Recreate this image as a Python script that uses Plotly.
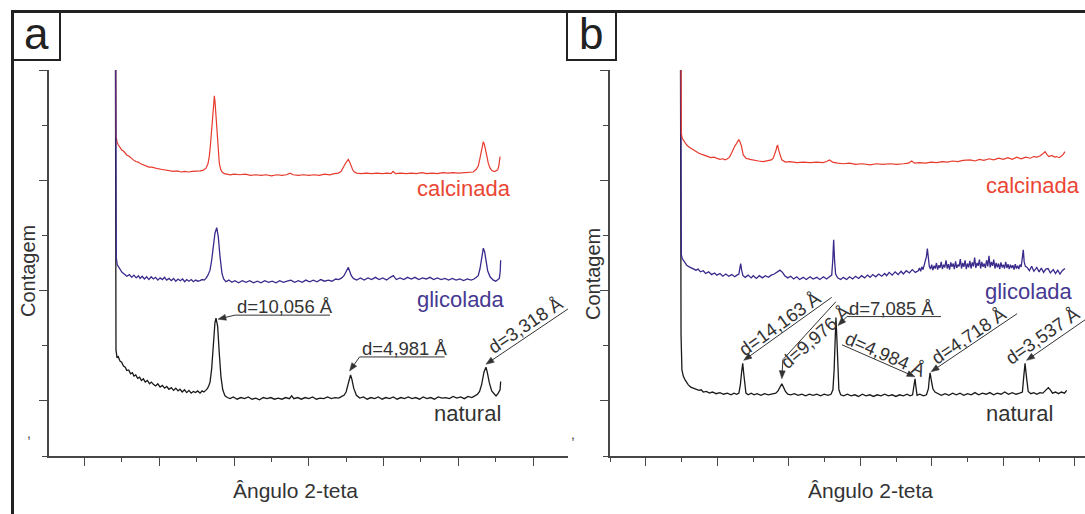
import math
import plotly.graph_objects as go

W, H = 1085, 514
FONT = "Liberation Sans, Arial, sans-serif"
INK = "#333333"
AXIS = "#474747"
C_NAT = "#1a1a1a"
C_GLI = "#3a2a8c"
C_CAL = "#e63a2c"
T_GLI = "#463892"
T_CAL = "#ea4634"
WAVELENGTH = 1.5406  # Cu K-alpha (Å)

# ---------------- (a) diffractograms: 2-theta (deg) / counts (a.u.) ----------------
a_nat_x = [2.03, 2.10, 2.17, 2.25, 2.37, 2.48, 2.60, 2.72, 2.82, 2.95, 3.08, 3.20, 3.30, 3.42, 3.55, 3.68,
           3.80, 3.93, 4.06, 4.20, 4.34, 4.47, 4.60, 4.75, 4.90, 5.05, 5.20, 5.35, 5.49, 5.64, 5.80, 5.95,
           6.10, 6.25, 6.38, 6.53, 6.68, 6.83, 6.98, 7.13, 7.27, 7.42, 7.57, 7.72, 7.86, 7.98, 8.10, 8.21,
           8.30, 8.39, 8.50, 8.61, 8.72, 8.79, 8.90, 9.01, 9.12, 9.24, 9.39, 9.55, 9.73, 9.95, 10.20, 10.45,
           10.70, 10.95, 11.20, 11.45, 11.70, 11.95, 12.20, 12.45, 12.70, 12.95, 13.20, 13.45, 13.70, 13.85,
           14.00, 14.25, 14.50, 14.75, 15.00, 15.25, 15.50, 15.75, 16.00, 16.25, 16.50, 16.75, 17.00, 17.20,
           17.35, 17.49, 17.62, 17.72, 17.79, 17.88, 18.00, 18.18, 18.40, 18.65, 18.90, 19.15, 19.40, 19.65,
           19.90, 20.15, 20.40, 20.65, 20.90, 21.15, 21.40, 21.65, 21.90, 22.15, 22.40, 22.65, 22.90, 23.15,
           23.40, 23.65, 23.90, 24.15, 24.40, 24.65, 24.90, 25.15, 25.40, 25.65, 25.90, 26.10, 26.28, 26.42,
           26.56, 26.72, 26.85, 26.94, 27.07, 27.23, 27.38, 27.52, 27.67, 27.79, 27.83]
a_nat_y = [12.0, 1.92, 1.78, 1.80, 1.72, 1.70, 1.63, 1.61, 1.55, 1.56, 1.49, 1.51, 1.45, 1.47, 1.41, 1.43,
           1.37, 1.40, 1.34, 1.37, 1.31, 1.34, 1.30, 1.27, 1.31, 1.25, 1.28, 1.23, 1.26, 1.21, 1.24, 1.19,
           1.23, 1.18, 1.21, 1.16, 1.20, 1.15, 1.19, 1.14, 1.17, 1.15, 1.18, 1.14, 1.18, 1.16, 1.19, 1.22,
           1.27, 1.34, 1.58, 2.05, 2.42, 2.50, 2.35, 1.86, 1.44, 1.20, 1.09, 1.06, 1.04, 1.07, 1.03, 1.06,
           1.04, 1.07, 1.03, 1.05, 1.02, 1.06, 1.04, 1.06, 1.03, 1.05, 1.03, 1.06, 1.04, 1.09,
           1.04, 1.06, 1.03, 1.06, 1.04, 1.07, 1.03, 1.05, 1.04, 1.07, 1.04, 1.06, 1.05, 1.08,
           1.10, 1.16, 1.30, 1.43, 1.47, 1.39, 1.23, 1.10, 1.05, 1.07, 1.03, 1.06, 1.04, 1.07,
           1.03, 1.06, 1.04, 1.07, 1.03, 1.06, 1.04, 1.07, 1.04, 1.06, 1.03, 1.07, 1.04, 1.06,
           1.03, 1.07, 1.05, 1.06, 1.04, 1.08, 1.05, 1.07, 1.04, 1.08, 1.06, 1.09, 1.12, 1.17,
           1.30, 1.53, 1.61, 1.51, 1.33, 1.18, 1.14, 1.09, 1.14, 1.20, 1.35]

a_gli_x = [2.03, 2.12, 2.18, 2.25, 2.37, 2.50, 2.65, 2.82, 3.00, 3.15, 3.30, 3.45, 3.60, 3.71, 3.85, 4.00,
           4.15, 4.30, 4.45, 4.60, 4.75, 4.90, 5.05, 5.20, 5.35, 5.49, 5.65, 5.80, 5.95, 6.10, 6.25, 6.40,
           6.55, 6.70, 6.83, 6.98, 7.13, 7.28, 7.43, 7.58, 7.72, 7.86, 8.00, 8.12, 8.25, 8.39, 8.50, 8.60,
           8.72, 8.84, 8.94, 9.06, 9.19, 9.30, 9.45, 9.65, 9.85, 10.05, 10.30, 10.55, 10.80, 11.05, 11.30,
           11.55, 11.80, 12.05, 12.30, 12.55, 12.80, 13.05, 13.30, 13.55, 13.80, 14.05, 14.30, 14.55, 14.80,
           15.05, 15.30, 15.55, 15.80, 16.05, 16.30, 16.55, 16.80, 17.00, 17.20, 17.35, 17.48, 17.58, 17.64,
           17.72, 17.84, 17.98, 18.20, 18.45, 18.70, 18.95, 19.20, 19.45, 19.70, 19.95, 20.20, 20.45, 20.65,
           20.85, 21.10, 21.35, 21.60, 21.85, 22.10, 22.35, 22.60, 22.85, 23.10, 23.35, 23.60, 23.85, 24.10,
           24.35, 24.60, 24.85, 25.10, 25.35, 25.60, 25.85, 26.05, 26.20, 26.33, 26.45, 26.56, 26.67, 26.76,
           26.86, 26.96, 27.12, 27.34, 27.50, 27.62, 27.74, 27.80, 27.83]
a_gli_y = [12.0, 3.60, 3.47, 3.44, 3.38, 3.33, 3.30, 3.26, 3.29, 3.24, 3.28, 3.23, 3.27, 3.22, 3.26, 3.21,
           3.25, 3.20, 3.25, 3.21, 3.24, 3.19, 3.23, 3.20, 3.24, 3.19, 3.22, 3.18, 3.22, 3.17, 3.21, 3.18,
           3.21, 3.16, 3.20, 3.17, 3.20, 3.16, 3.19, 3.17, 3.18, 3.20, 3.19, 3.22, 3.28, 3.37, 3.55, 3.74,
           4.04, 4.14, 3.98, 3.61, 3.31, 3.21, 3.16, 3.19, 3.15, 3.18, 3.14, 3.18, 3.15, 3.18, 3.14,
           3.17, 3.14, 3.18, 3.15, 3.17, 3.14, 3.18, 3.15, 3.17, 3.19, 3.15, 3.18, 3.15, 3.19,
           3.16, 3.19, 3.16, 3.20, 3.17, 3.19, 3.17, 3.21, 3.20, 3.23, 3.27, 3.33, 3.40, 3.42,
           3.36, 3.27, 3.22, 3.19, 3.23, 3.19, 3.23, 3.20, 3.24, 3.20, 3.23, 3.19, 3.24, 3.27,
           3.20, 3.23, 3.20, 3.24, 3.21, 3.24, 3.20, 3.23, 3.21, 3.24, 3.20, 3.23, 3.20, 3.22,
           3.19, 3.22, 3.19, 3.21, 3.18, 3.21, 3.19, 3.21, 3.24, 3.27, 3.40, 3.62, 3.77, 3.70,
           3.52, 3.36, 3.25, 3.19, 3.17, 3.19, 3.22, 3.35, 3.55]

a_cal_x = [2.03, 2.10, 2.17, 2.25, 2.36, 2.48, 2.60, 2.70, 2.82, 2.95, 3.10, 3.26, 3.42, 3.58, 3.75, 3.93,
           4.10, 4.30, 4.50, 4.70, 4.90, 5.10, 5.30, 5.50, 5.71, 5.95, 6.20, 6.45, 6.70, 6.95, 7.20, 7.45,
           7.72, 7.92, 8.12, 8.25, 8.34, 8.42, 8.50, 8.58, 8.63, 8.68, 8.73, 8.80, 8.88, 8.95, 9.01, 9.10,
           9.20, 9.35, 9.51, 9.75, 10.00, 10.39, 10.75, 11.10, 11.45, 11.80, 12.15, 12.50, 12.85, 13.20,
           13.50, 13.74, 13.95, 14.30, 14.65, 15.00, 15.35, 15.70, 16.05, 16.40, 16.70, 16.97, 17.15, 17.30,
           17.42, 17.53, 17.64, 17.75, 17.85, 17.93, 18.05, 18.20, 18.50, 18.85, 19.20, 19.55, 19.90, 20.25,
           20.50, 20.63, 20.80, 21.15, 21.50, 21.85, 22.20, 22.55, 22.90, 23.25, 23.60, 23.95, 24.30, 24.65,
           25.00, 25.35, 25.70, 26.00, 26.20, 26.33, 26.43, 26.51, 26.60, 26.67, 26.75, 26.83, 26.92, 27.00,
           27.12, 27.23, 27.35, 27.45, 27.55, 27.63, 27.70, 27.76, 27.79]
a_cal_y = [12.0, 5.79, 5.70, 5.64, 5.60, 5.55, 5.53, 5.49, 5.46, 5.44, 5.40, 5.37, 5.34, 5.33, 5.30, 5.28,
           5.27, 5.24, 5.24, 5.22, 5.21, 5.20, 5.19, 5.19, 5.18, 5.16, 5.17, 5.15, 5.16, 5.15, 5.16, 5.16,
           5.17, 5.18, 5.22, 5.30, 5.43, 5.65, 5.97, 6.25, 6.40, 6.53, 6.40, 6.12, 5.73, 5.48, 5.31, 5.20,
           5.15, 5.12, 5.11, 5.10, 5.11, 5.10, 5.11, 5.09, 5.10, 5.09, 5.10, 5.08, 5.10, 5.09,
           5.10, 5.13, 5.10, 5.09, 5.10, 5.09, 5.10, 5.09, 5.11, 5.10, 5.12, 5.13, 5.16, 5.22,
           5.29, 5.34, 5.38, 5.32, 5.25, 5.19, 5.15, 5.13, 5.12, 5.13, 5.12, 5.13, 5.12, 5.13,
           5.12, 5.16, 5.12, 5.13, 5.12, 5.13, 5.12, 5.14, 5.12, 5.13, 5.12, 5.14, 5.13, 5.14,
           5.13, 5.14, 5.14, 5.15, 5.20, 5.26, 5.38, 5.49, 5.62, 5.70, 5.64, 5.56, 5.42, 5.31,
           5.22, 5.18, 5.16, 5.16, 5.18, 5.19, 5.25, 5.35, 5.43]

# ---------------- (b) diffractograms ----------------
b_nat_x = [2.03, 2.10, 2.16, 2.25, 2.37, 2.48, 2.59, 2.75, 2.92, 3.10, 3.30, 3.45, 3.59, 3.80, 4.00, 4.20,
           4.45, 4.71, 4.95, 5.20, 5.45, 5.65, 5.83, 5.98, 6.08, 6.16, 6.236, 6.30, 6.37, 6.45, 6.60, 6.80,
           7.00, 7.20, 7.45, 7.70, 7.95, 8.20, 8.45, 8.60, 8.72, 8.857, 8.98, 9.10, 9.25, 9.45, 9.70, 9.95,
           10.20, 10.45, 10.70, 10.95, 11.20, 11.45, 11.70, 11.95, 12.15, 12.28, 12.36, 12.43, 12.483, 12.53,
           12.60, 12.68, 12.80, 13.00, 13.25, 13.50, 13.75, 14.00, 14.25, 14.50, 14.75, 15.00, 15.25, 15.50,
           15.75, 16.00, 16.25, 16.50, 16.75, 17.00, 17.25, 17.45, 17.62, 17.72, 17.782, 17.84, 17.92, 18.10,
           18.35, 18.55, 18.68, 18.74, 18.793, 18.87, 18.98, 19.12, 19.30, 19.55, 19.80, 20.05, 20.30, 20.55,
           20.80, 21.05, 21.30, 21.55, 21.80, 22.05, 22.30, 22.55, 22.80, 23.05, 23.30, 23.55, 23.80, 24.05,
           24.30, 24.55, 24.80, 24.98, 25.07, 25.158, 25.25, 25.37, 25.55, 25.75, 25.95, 26.15, 26.35, 26.50,
           26.62, 26.72, 26.85, 27.00, 27.20, 27.40, 27.60, 27.80, 27.95]
b_nat_y = [12.0, 2.20, 1.56, 1.45, 1.38, 1.33, 1.29, 1.25, 1.23, 1.21, 1.19, 1.20, 1.16, 1.17, 1.14, 1.16,
           1.13, 1.15, 1.12, 1.14, 1.11, 1.14, 1.12, 1.14, 1.30, 1.52, 1.68, 1.50, 1.28, 1.14, 1.11, 1.14,
           1.11, 1.13, 1.10, 1.13, 1.11, 1.13, 1.14, 1.18, 1.24, 1.31, 1.24, 1.17, 1.12, 1.11, 1.13, 1.10,
           1.12, 1.09, 1.12, 1.10, 1.12, 1.09, 1.12, 1.10, 1.12, 1.20, 1.55, 2.23, 2.51, 2.23,
           1.55, 1.20, 1.11, 1.09, 1.12, 1.09, 1.11, 1.08, 1.12, 1.09, 1.11, 1.08, 1.11, 1.09,
           1.12, 1.09, 1.11, 1.08, 1.11, 1.09, 1.12, 1.09, 1.11, 1.28, 1.40, 1.26, 1.10, 1.12,
           1.09, 1.11, 1.22, 1.40, 1.51, 1.38, 1.22, 1.16, 1.13, 1.10, 1.13, 1.10, 1.14, 1.11,
           1.14, 1.10, 1.13, 1.11, 1.15, 1.11, 1.14, 1.12, 1.15, 1.11, 1.14, 1.12, 1.16, 1.12,
           1.15, 1.12, 1.14, 1.16, 1.44, 1.68, 1.44, 1.17, 1.13, 1.15, 1.12, 1.15, 1.14, 1.18,
           1.22, 1.24, 1.20, 1.14, 1.16, 1.13, 1.16, 1.14, 1.19]

b_gli_x = [2.03, 2.12, 2.18, 2.25, 2.36, 2.48, 2.65, 2.80, 2.92, 3.10, 3.25, 3.40, 3.59, 3.75, 3.95, 4.15,
           4.35, 4.50, 4.71, 4.90, 5.10, 5.30, 5.50, 5.70, 5.85, 5.98, 6.05, 6.10, 6.16, 6.25, 6.40, 6.60,
           6.80, 6.94, 7.15, 7.35, 7.55, 7.75, 7.95, 8.15, 8.35, 8.55, 8.73, 8.90, 9.05, 9.25, 9.45, 9.65,
           9.85, 10.05, 10.29, 10.50, 10.75, 10.95, 11.20, 11.40, 11.65, 11.85, 12.05, 12.20, 12.27, 12.33,
           12.39, 12.46, 12.60, 12.80, 12.98, 13.20, 13.40, 13.60, 13.80, 14.00, 14.20, 14.40, 14.60, 14.77,
           14.95, 15.15, 15.35, 15.55, 15.75, 15.88, 16.05, 16.25, 16.45, 16.65, 16.85, 17.00, 17.20, 17.40,
           17.60, 17.80, 18.00, 18.08, 18.16, 18.24, 18.32, 18.40, 18.48, 18.55, 18.61, 18.67, 18.74, 18.82,
           18.90, 18.98, 19.06, 19.14, 19.22, 19.30, 19.38, 19.46, 19.54, 19.62, 19.70, 19.78, 19.86, 19.94,
           20.02, 20.10, 20.18, 20.26, 20.34, 20.42, 20.50, 20.58, 20.66, 20.74, 20.82, 20.90, 20.98, 21.06,
           21.14, 21.22, 21.30, 21.38, 21.46, 21.54, 21.62, 21.70, 21.78, 21.86, 21.94, 22.02, 22.10, 22.18,
           22.26, 22.34, 22.42, 22.50, 22.58, 22.66, 22.74, 22.82, 22.90, 22.98, 23.06, 23.14, 23.22, 23.30,
           23.38, 23.46, 23.54, 23.62, 23.70, 23.78, 23.86, 23.94, 24.02, 24.10, 24.18, 24.26, 24.34, 24.42,
           24.50, 24.58, 24.66, 24.74, 24.82, 24.90, 24.97, 25.04, 25.10, 25.18, 25.30, 25.45, 25.60, 25.75,
           25.94, 26.10, 26.25, 26.40, 26.55, 26.70, 26.85, 27.05, 27.20, 27.35, 27.50, 27.65, 27.83]
b_gli_y = [12.0, 3.65, 3.58, 3.55, 3.50, 3.46, 3.43, 3.41, 3.39, 3.37, 3.39, 3.34, 3.36, 3.31, 3.34, 3.29,
           3.32, 3.28, 3.31, 3.26, 3.30, 3.26, 3.29, 3.25, 3.28, 3.30, 3.42, 3.49, 3.37, 3.27, 3.24, 3.28,
           3.23, 3.27, 3.22, 3.27, 3.23, 3.27, 3.24, 3.28, 3.30, 3.34, 3.37, 3.33, 3.27, 3.23, 3.26, 3.21,
           3.25, 3.20, 3.24, 3.20, 3.25, 3.21, 3.24, 3.20, 3.25, 3.21, 3.25, 3.28, 3.55, 3.92,
           3.55, 3.30, 3.23, 3.20, 3.24, 3.20, 3.25, 3.21, 3.26, 3.22, 3.27, 3.23, 3.28, 3.24,
           3.29, 3.25, 3.30, 3.26, 3.31, 3.27, 3.33, 3.28, 3.34, 3.29, 3.35, 3.30, 3.36, 3.32,
           3.38, 3.33, 3.36, 3.41, 3.35, 3.43, 3.38, 3.46, 3.52, 3.62, 3.76, 3.55, 3.44, 3.39,
           3.47, 3.37, 3.45, 3.40, 3.50, 3.38, 3.46, 3.41, 3.52, 3.39, 3.47, 3.42, 3.55, 3.40,
           3.48, 3.38, 3.51, 3.43, 3.49, 3.39, 3.53, 3.41, 3.47, 3.44, 3.57, 3.40, 3.50, 3.43,
           3.55, 3.39, 3.49, 3.42, 3.54, 3.40, 3.51, 3.44, 3.60, 3.41, 3.50, 3.45, 3.56, 3.40,
           3.52, 3.43, 3.49, 3.41, 3.55, 3.44, 3.63, 3.42, 3.52, 3.45, 3.56, 3.40, 3.50, 3.42,
           3.49, 3.39, 3.51, 3.42, 3.47, 3.40, 3.52, 3.41, 3.48, 3.39, 3.47, 3.41, 3.46, 3.38,
           3.48, 3.40, 3.45, 3.39, 3.47, 3.43, 3.55, 3.74, 3.52, 3.44, 3.42, 3.36, 3.44, 3.35,
           3.42, 3.34, 3.41, 3.33, 3.39, 3.40, 3.32, 3.38, 3.31, 3.37, 3.30, 3.36, 3.40]

b_cal_x = [2.03, 2.12, 2.18, 2.25, 2.36, 2.48, 2.65, 2.92, 3.10, 3.30, 3.59, 3.85, 4.10, 4.30, 4.49, 4.70,
           4.90, 5.05, 5.16, 5.35, 5.50, 5.60, 5.72, 5.83, 5.97, 6.05, 6.15, 6.27, 6.45, 6.72, 7.00, 7.30,
           7.61, 7.90, 8.15, 8.28, 8.40, 8.47, 8.53, 8.58, 8.64, 8.72, 8.85, 9.10, 9.40, 9.85, 10.30, 10.75,
           11.20, 11.60, 11.86, 12.05, 12.25, 12.60, 12.98, 13.40, 13.80, 14.25, 14.77, 15.20, 15.65, 16.10,
           16.55, 17.00, 17.35, 17.56, 17.75, 18.10, 18.50, 18.85, 19.24, 19.60, 19.95, 20.30, 20.65, 21.00,
           21.47, 21.80, 22.10, 22.40, 22.75, 23.05, 23.40, 23.70, 24.00, 24.30, 24.60, 24.90, 25.20, 25.50,
           25.75, 25.94, 26.15, 26.35, 26.50, 26.62, 26.75, 26.95, 27.15, 27.28, 27.45, 27.60, 27.72, 27.83]
b_cal_y = [12.0, 5.85, 5.76, 5.73, 5.68, 5.64, 5.60, 5.55, 5.52, 5.49, 5.46, 5.44, 5.41, 5.42, 5.40, 5.38,
           5.39, 5.37, 5.38, 5.42, 5.50, 5.57, 5.63, 5.67, 5.74, 5.70, 5.62, 5.46, 5.40, 5.38, 5.36, 5.35,
           5.34, 5.35, 5.37, 5.40, 5.48, 5.55, 5.62, 5.63, 5.55, 5.46, 5.37, 5.33, 5.34, 5.32, 5.33, 5.32,
           5.33, 5.32, 5.34, 5.37, 5.33, 5.31, 5.30, 5.31, 5.29, 5.30, 5.28, 5.30, 5.29, 5.30,
           5.29, 5.30, 5.31, 5.35, 5.31, 5.32, 5.31, 5.33, 5.32, 5.34, 5.33, 5.35, 5.34, 5.36,
           5.37, 5.35, 5.38, 5.36, 5.39, 5.37, 5.40, 5.38, 5.41, 5.38, 5.42, 5.39, 5.42, 5.40,
           5.43, 5.42, 5.44, 5.48, 5.52, 5.47, 5.43, 5.45, 5.42, 5.43, 5.41, 5.44, 5.47, 5.52]

# d-spacings (Å) marked on the natural samples
a_d = [10.056, 4.981, 3.318]
b_d = [14.163, 9.976, 7.085, 4.984, 4.718, 3.537]

for xs, ys in [(a_nat_x, a_nat_y), (a_gli_x, a_gli_y), (a_cal_x, a_cal_y),
               (b_nat_x, b_nat_y), (b_gli_x, b_gli_y), (b_cal_x, b_cal_y)]:
    assert len(xs) == len(ys)


def bragg(d):
    return 2.0 * math.degrees(math.asin(WAVELENGTH / (2.0 * d)))


def px(x):
    return x / W


def py(y):
    return 1.0 - y / H


fig = go.Figure()


def trace(xs, ys, color, width, panel):
    fig.add_trace(go.Scatter(
        x=xs, y=ys, mode="lines", line=dict(color=color, width=width),
        xaxis="x" if panel == 1 else "x2", yaxis="y" if panel == 1 else "y2",
        hoverinfo="skip", showlegend=False))


trace(a_nat_x, a_nat_y, C_NAT, 1.3, 1)
trace(a_cal_x, a_cal_y, C_CAL, 1.2, 1)
trace(a_gli_x, a_gli_y, C_GLI, 1.3, 1)
trace(b_nat_x, b_nat_y, C_NAT, 1.3, 2)
trace(b_gli_x, b_gli_y, C_GLI, 1.3, 2)
trace(b_cal_x, b_cal_y, C_CAL, 1.2, 2)

# ---------------- axes ----------------
ydom = [py(456), py(70)]


def xaxis(domain, rng, tick0, dtick, anchor):
    return dict(domain=domain, range=rng, anchor=anchor, showline=True, linecolor=AXIS, linewidth=1.5,
                ticks="outside", ticklen=8, tickwidth=1.3, tickcolor=AXIS, tick0=tick0, dtick=dtick,
                showticklabels=False, showgrid=False, zeroline=False, fixedrange=True,
                minor=dict(ticks="outside", ticklen=4, tickwidth=1.3, tickcolor=AXIS,
                           tick0=tick0, dtick=dtick / 2, showgrid=False))


def yaxis(anchor):
    return dict(domain=ydom, range=[0, 7], anchor=anchor, showline=True, linecolor=AXIS, linewidth=1.5,
                ticks="outside", ticklen=8, tickwidth=1.3, tickcolor=AXIS, tick0=1, dtick=2,
                showticklabels=False, showgrid=False, zeroline=False, fixedrange=True,
                minor=dict(ticks="outside", ticklen=5, tickwidth=1.3, tickcolor=AXIS,
                           tick0=0, dtick=1, showgrid=False))


fig.update_layout(
    width=W, height=H, margin=dict(l=0, r=0, t=0, b=0),
    paper_bgcolor="white", plot_bgcolor="white", showlegend=False,
    xaxis=xaxis([px(49), px(568)], [-2.381, 32.334], 0, 5, "y"),
    yaxis=yaxis("x"),
    xaxis2=xaxis([px(610), 1.0], [-2.661, 29.176], -0.25, 4.79, "y2"),
    yaxis2=yaxis("x2"),
)

# ---------------- peak call-outs ----------------
LABEL_FONT = dict(family=FONT, size=18.5, color=INK)
ANGSTROM = "\u00c5"

# offsets in screen pixels (y down) relative to the peak top of the natural trace
a_callouts = [
    dict(kind="bend", nudge=(2, 1), bend=(17, -4), run=95),
    dict(kind="bend", nudge=(-1, -4), bend=(10, -14), run=85),
    dict(kind="slant", nudge=(0, -3), tail=(92, -62), t=0.5, lift=10),
]
b_callouts = [
    dict(kind="slant", nudge=(1, -3), tail=(88, -63), t=0.47, lift=9),
    dict(kind="kink", nudge=(0, -5), bend=(1, -19), tail=(54, -77), t=0.5, lift=-9, angle=-41),
    dict(kind="bend", nudge=(2, 8), bend=(9, -9), run=94),
    dict(kind="slant", nudge=(0, -2), tail=(-73, -32), t=0.45, lift=9),
    dict(kind="slant", nudge=(1, -1), tail=(86, -58), t=0.5, lift=9),
    dict(kind="slant", nudge=(1.5, -3), tail=(75, -52), t=0.30, lift=11),
]


def add_callout(panel, d, xs, ys, spec):
    xref, yref = ("x", "y") if panel == 1 else ("x2", "y2")
    tip_x = bragg(d)
    tip_y = max(y for x, y in zip(xs, ys) if abs(x - tip_x) < 0.12)
    label = "d=" + f"{d:.3f}".replace(".", ",") + " " + ANGSTROM
    anchor = dict(xref=xref, yref=yref, xsizemode="pixel", ysizemode="pixel",
                  xanchor=tip_x, yanchor=tip_y)

    def seg(p, q):
        fig.add_shape(type="line", x0=p[0], y0=-p[1], x1=q[0], y1=-q[1],
                      line=dict(color=INK, width=1), **anchor)

    def head(tip, toward):
        dx, dy = toward[0] - tip[0], toward[1] - tip[1]
        n = math.hypot(dx, dy)
        ux, uy = dx / n, dy / n
        bx, by = tip[0] + 8 * ux, tip[1] + 8 * uy
        c1 = (bx - 3 * uy, by + 3 * ux)
        c2 = (bx + 3 * uy, by - 3 * ux)
        path = "M{:.2f},{:.2f} L{:.2f},{:.2f} L{:.2f},{:.2f} Z".format(
            tip[0], -tip[1], c1[0], -c1[1], c2[0], -c2[1])
        fig.add_shape(type="path", path=path, fillcolor=INK, line=dict(color=INK, width=0.5), **anchor)
        return (tip[0] + 6 * ux, tip[1] + 6 * uy)

    def label_text(cx, cy, **kw):
        fig.add_annotation(x=tip_x, y=tip_y, xref=xref, yref=yref, text=label, showarrow=False,
                           xshift=cx, yshift=-cy, font=LABEL_FONT, borderpad=0, **kw)

    nx, ny = spec["nudge"]
    tip = (nx, ny)
    kind = spec["kind"]
    if kind == "bend":
        b = (nx + spec["bend"][0], ny + spec["bend"][1])
        seg(head(tip, b), b)
        seg(b, (b[0] + spec["run"], b[1]))
        label_text(b[0] + 1, b[1] + 3, xanchor="left", yanchor="bottom")
        return
    tail = (nx + spec["tail"][0], ny + spec["tail"][1])
    if kind == "kink":
        start = (nx + spec["bend"][0], ny + spec["bend"][1])
        seg(head(tip, start), start)
        seg(start, tail)
    else:
        start = tip
        seg(head(tip, tail), tail)
    dx, dy = tail[0] - start[0], tail[1] - start[1]
    length = math.hypot(dx, dy)
    ux, uy = dx / length, dy / length
    nrm = (uy, -ux) if -ux < 0 else (-uy, ux)
    cx = start[0] + spec["t"] * dx + spec["lift"] * nrm[0]
    cy = start[1] + spec["t"] * dy + spec["lift"] * nrm[1]
    rx, ry = (ux, uy) if ux > 0 else (-ux, -uy)
    ang = spec.get("angle", math.degrees(math.atan2(ry, rx)))
    label_text(cx, cy, textangle=ang, xanchor="center", yanchor="middle")


for d, spec in zip(a_d, a_callouts):
    add_callout(1, d, a_nat_x, a_nat_y, spec)
for d, spec in zip(b_d, b_callouts):
    add_callout(2, d, b_nat_x, b_nat_y, spec)


# ---------------- sample names, axis titles, panel letters ----------------
def text(x, y, s, size, color, xanchor="center", angle=0):
    fig.add_annotation(x=px(x), y=py(y), xref="paper", yref="paper", text=s, showarrow=False,
                       xanchor=xanchor, yanchor="middle", textangle=angle,
                       font=dict(family=FONT, size=size, color=color))


text(513, 188, "calcinada", 22, T_CAL, "right")
text(507, 299, "glicolada", 22, T_GLI, "right")
text(503, 413, "natural", 22, INK, "right")
text(1082, 185, "calcinada", 22, T_CAL, "right")
text(1075, 291, "glicolada", 22, T_GLI, "right")
text(1055, 413, "natural", 22, INK, "right")

text(295, 490, "Ângulo 2-teta", 21, INK)
text(870, 490, "Ângulo 2-teta", 21, INK)
text(28, 271, "Contagem", 20, INK, angle=-90)
text(593, 274, "Contagem", 20, INK, angle=-90)
text(29, 433, ",", 14, "#444444")
text(573, 434, ",", 14, "#444444")

text(36, 34, "a", 44, "#222222")
text(591, 34, "b", 44, "#222222")

# frame and letter boxes
FRAME = "#222222"
fig.add_shape(type="line", xref="paper", yref="paper", x0=px(11), x1=1.0, y0=py(11.5), y1=py(11.5),
              line=dict(color=FRAME, width=3))
fig.add_shape(type="line", xref="paper", yref="paper", x0=px(12.5), x1=px(12.5), y0=py(10), y1=0,
              line=dict(color=FRAME, width=3))
for x0, x1 in [(12.5, 60), (567, 616)]:
    fig.add_shape(type="rect", xref="paper", yref="paper", x0=px(x0), x1=px(x1), y0=py(12), y1=py(60),
                  line=dict(color=FRAME, width=2), fillcolor="rgba(0,0,0,0)")

fig.write_html("out.html")
